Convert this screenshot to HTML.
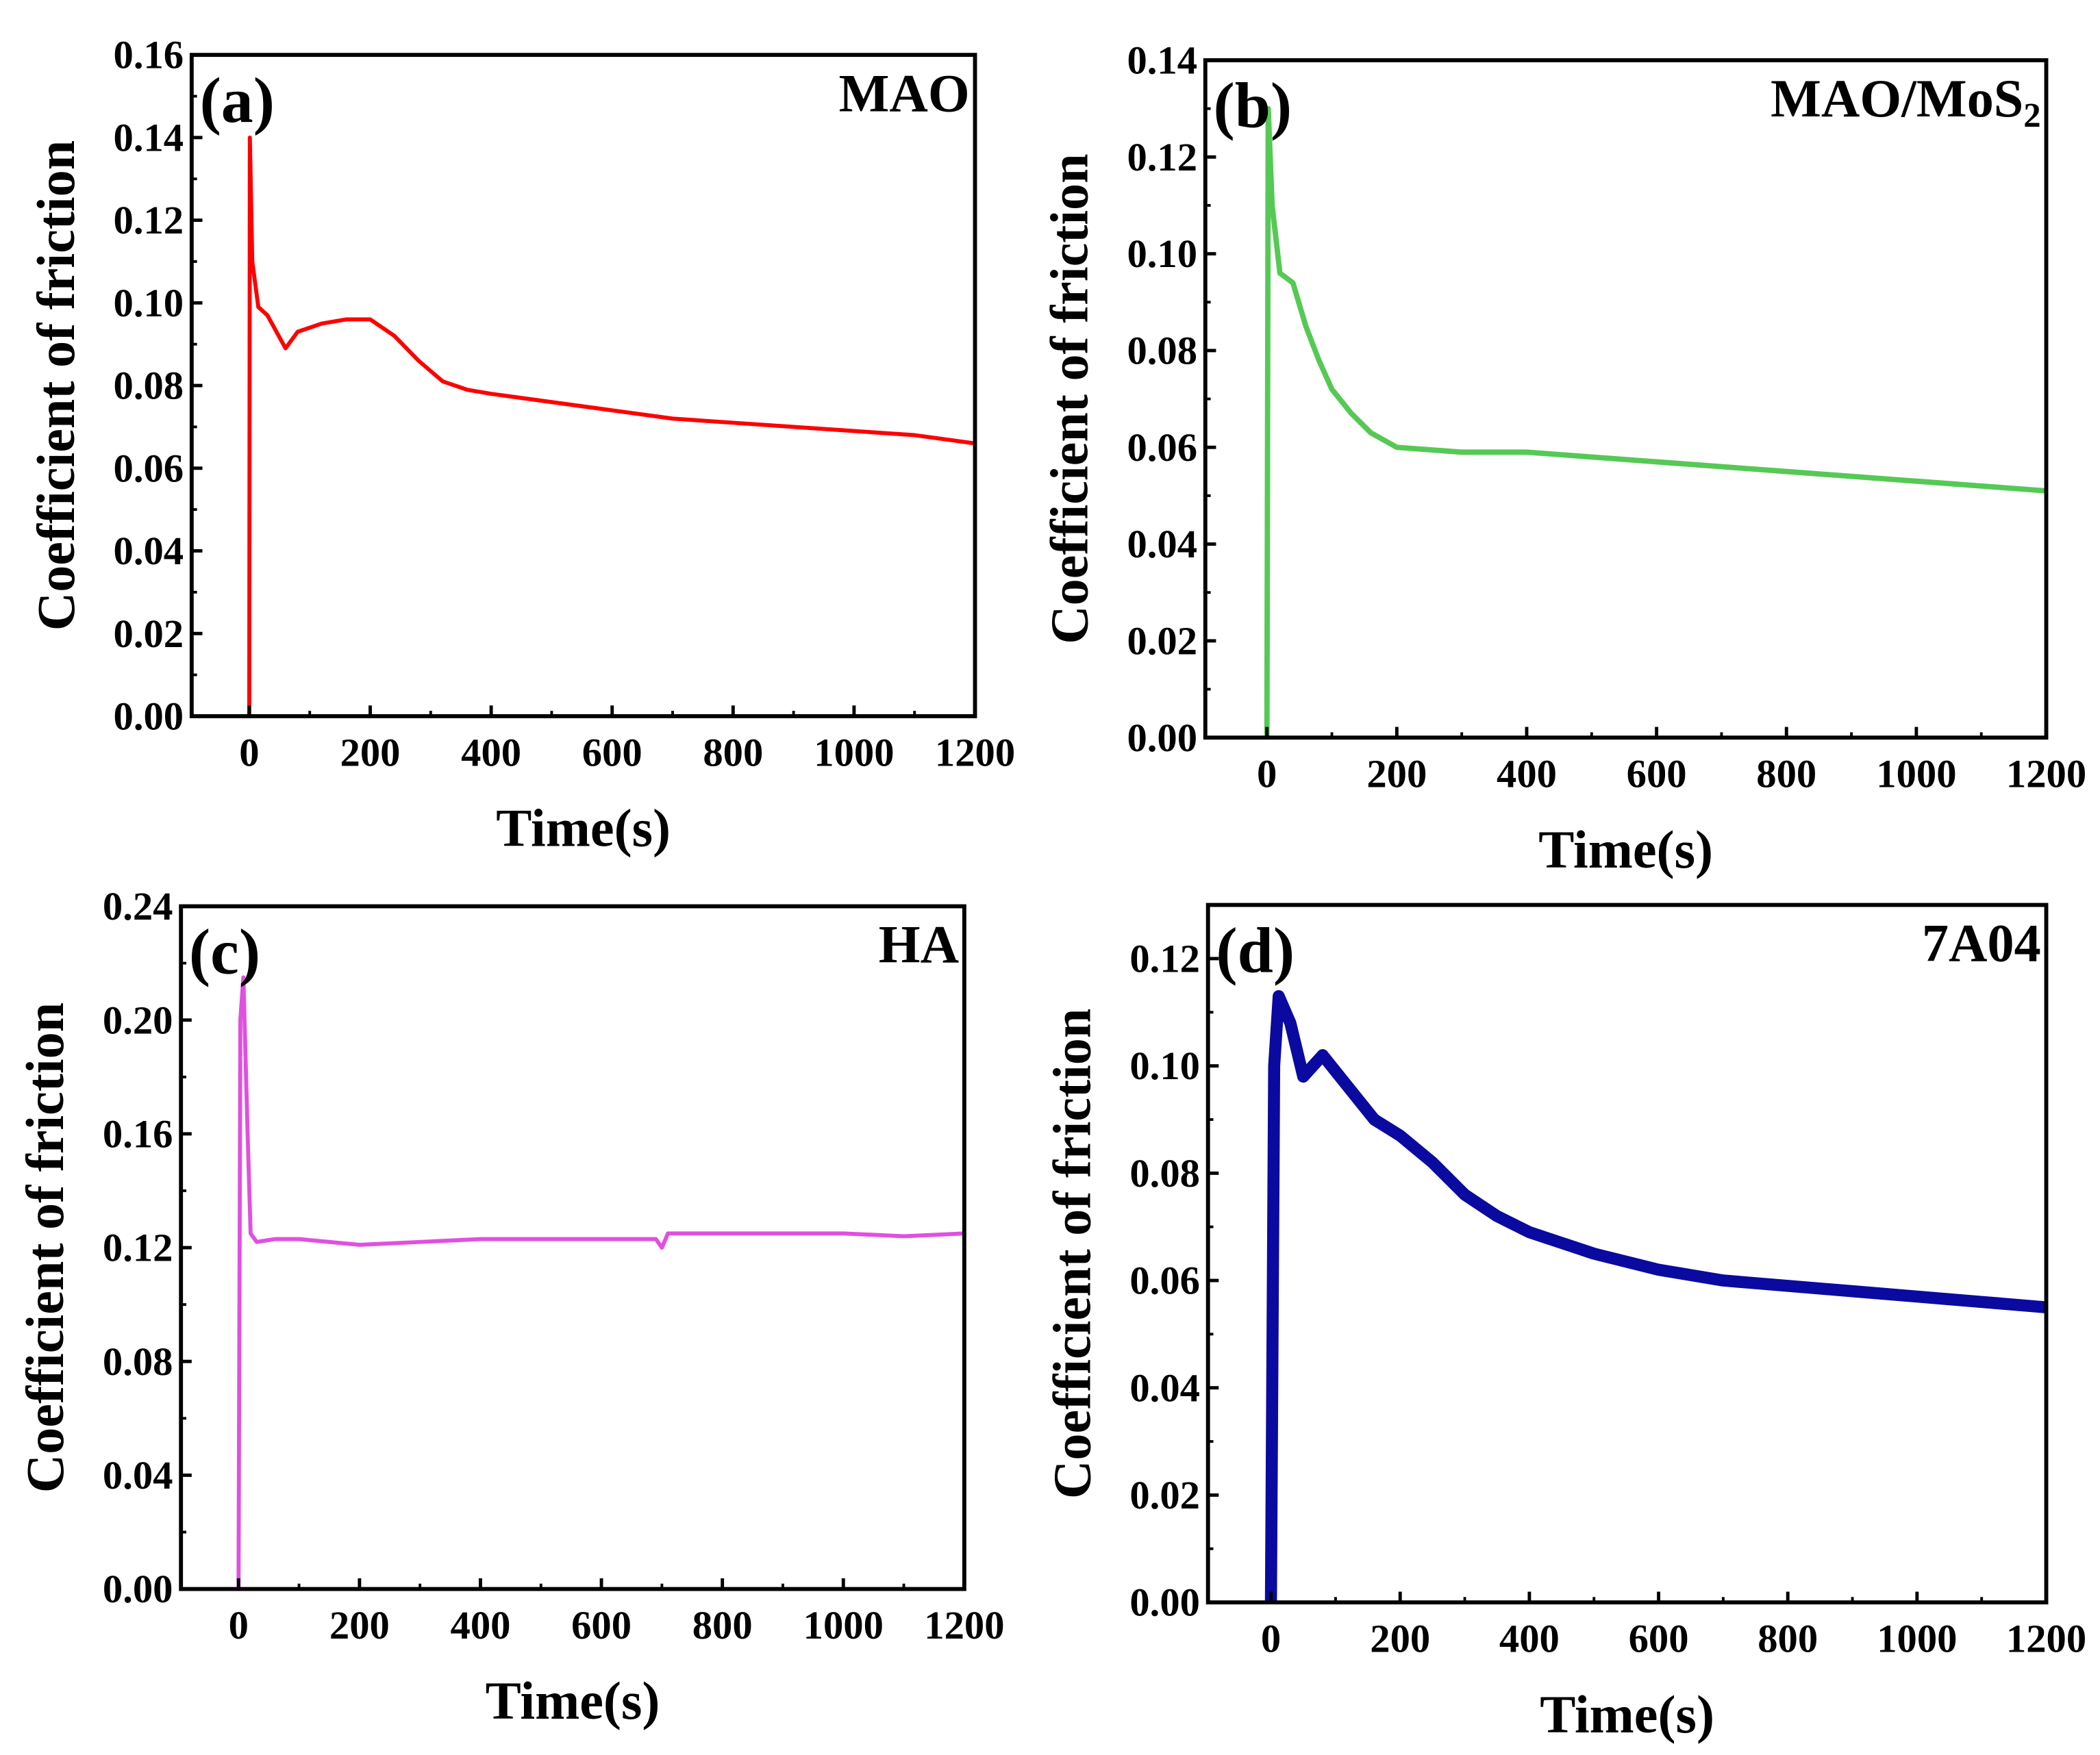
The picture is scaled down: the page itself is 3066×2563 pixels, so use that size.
<!DOCTYPE html>
<html><head><meta charset="utf-8"><style>
html,body{margin:0;padding:0;background:#fff;}
svg{display:block;}
text{font-family:"Liberation Serif",serif;font-weight:bold;fill:#000;}
</style></head><body>
<svg id="fig" width="3066" height="2563" viewBox="0 0 1568 1311" xmlns="http://www.w3.org/2000/svg">
<rect x="0" y="0" width="1568" height="1311" fill="#fff"/>
</svg>
<script>
const aTime=[0,1,5,15,30,60,80,120,160,200,240,280,320,360,400,500,600,700,800,900,1000,1100,1200];
const aCof=[0,0.14,0.11,0.099,0.097,0.089,0.093,0.095,0.096,0.096,0.092,0.086,0.081,0.079,0.078,0.076,0.074,0.072,0.071,0.070,0.069,0.068,0.066];
const bTime=[0,2,8,20,40,60,80,100,130,160,200,300,400,500,600,700,800,900,1000,1100,1200];
const bCof=[0,0.13,0.11,0.096,0.094,0.085,0.078,0.072,0.067,0.063,0.060,0.059,0.059,0.058,0.057,0.056,0.055,0.054,0.053,0.052,0.051];
const cTime=[0,3,8,15,20,30,60,100,200,300,400,500,600,690,700,710,800,900,1000,1100,1200];
const cCof=[0,0.20,0.215,0.16,0.125,0.122,0.123,0.123,0.121,0.122,0.123,0.123,0.123,0.123,0.120,0.125,0.125,0.125,0.125,0.124,0.125];
const dTime=[0,5,12,30,50,80,120,160,200,250,300,350,400,450,500,600,700,800,900,1000,1100,1200];
const dCof=[0,0.10,0.113,0.108,0.098,0.102,0.096,0.090,0.087,0.082,0.076,0.072,0.069,0.067,0.065,0.062,0.060,0.059,0.058,0.057,0.056,0.055];
const xTicks=[0,200,400,600,800,1000,1200];
const aYTicks=[0,0.02,0.04,0.06,0.08,0.10,0.12,0.14,0.16];
const bYTicks=[0,0.02,0.04,0.06,0.08,0.10,0.12,0.14];
const cYTicks=[0,0.04,0.08,0.12,0.16,0.20,0.24];
const dYTicks=[0,0.02,0.04,0.06,0.08,0.10,0.12];

const NS="http://www.w3.org/2000/svg";
const svg=document.getElementById('fig');
function mk(tag,attrs,parent){const e=document.createElementNS(NS,tag);for(const k in attrs)e.setAttribute(k,attrs[k]);(parent||svg).appendChild(e);return e;}

function panel(id,box,x0px,ymax,yTicks,dec,times,vals,color,sw,label,title,sub){
  const g=mk('g',{});
  
  
  const [L,T,R,B]=box;
  const sx=(R-x0px)/1200;
  const X=t=>x0px+t*sx;
  const Y=v=>B-(v/ymax)*(B-T);
  let d='';
  times.forEach((t,i)=>{d+=(i?'L':'M')+X(t).toFixed(2)+' '+Y(vals[i]).toFixed(2);});
  const line=mk('path',{d:d,fill:'none',stroke:color,'stroke-width':sw,'stroke-linejoin':'round'},g);
  
  
  const fr=mk('rect',{x:L,y:T,width:R-L,height:B-T,fill:'none',stroke:'#000','stroke-width':3},g);
  
  
  xTicks.forEach((t,i)=>{
    const x=X(t);
    mk('line',{x1:x,y1:B,x2:x,y2:B-8,stroke:'#000','stroke-width':2.5},g);
    if(i<xTicks.length-1){const xm=X(t+100);mk('line',{x1:xm,y1:B,x2:xm,y2:B-4,stroke:'#000','stroke-width':2},g);}
    const tx=mk('text',{x:x,y:B+37,'text-anchor':'middle','font-size':30},g);
    tx.textContent=t;
    
    
  });
  const step=yTicks[1]-yTicks[0];
  yTicks.forEach((v,i)=>{
    const y=Y(v);
    mk('line',{x1:L,y1:y,x2:L+8,y2:y,stroke:'#000','stroke-width':2.5},g);
    if(i<yTicks.length-1){const ym=Y(v+step/2);mk('line',{x1:L,y1:ym,x2:L+4,y2:ym,stroke:'#000','stroke-width':2},g);}
    const ty=mk('text',{x:L-6,y:y+10,'text-anchor':'end','font-size':30},g);
    ty.textContent=v.toFixed(2);
    
    
  });
  const xt=mk('text',{x:(L+R)/2,y:B+97,'text-anchor':'middle','font-size':40},g);
  xt.textContent='Time(s)';
  
  
  const yt=mk('text',{x:0,y:0,'text-anchor':'middle','font-size':40,transform:`translate(${L-88},${(T+B)/2}) rotate(-90)`},g);
  yt.textContent='Coefficient of friction';
  
  
  const pl=mk('text',{x:L+6,y:T+50,'font-size':48},g);
  pl.textContent=label;
  
  
  const st=mk('text',{x:R-4,y:T+42,'text-anchor':'end','font-size':40},g);
  st.textContent=title;
  if(sub){const ts=mk('tspan',{'font-size':26,dy:8},st);ts.textContent=sub;}
  
  
}
panel('a',[143,41,728,535],186,0.16,aYTicks,2,aTime,aCof,'#ff0000',3,'(a)','MAO');
panel('b',[900,45,1528,551],946,0.14,bYTicks,2,bTime,bCof,'#55c955',4,'(b)','MAO/MoS','2');
panel('c',[135,677,720,1187],178,0.24,cYTicks,2,cTime,cCof,'#e050e0',3,'(c)','HA');
panel('d',[902,676,1528,1197],949,0.13,dYTicks,2,dTime,dCof,'#0a0aa0',9,'(d)','7A04');
</script>
</body></html>
